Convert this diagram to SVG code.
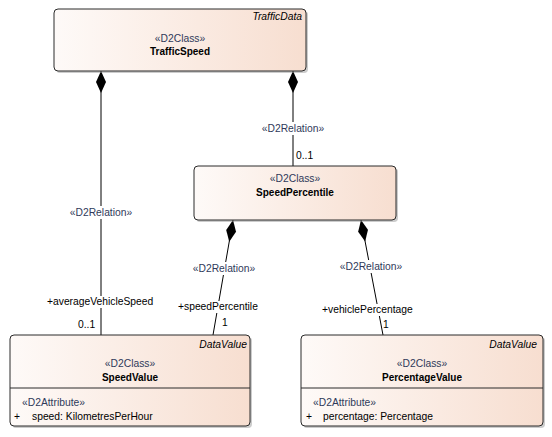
<svg xmlns="http://www.w3.org/2000/svg" width="552" height="437" viewBox="0 0 552 437">
<defs>
<linearGradient id="g" x1="0" y1="0" x2="1" y2="0">
<stop offset="0" stop-color="#fefaf8"/>
<stop offset="1" stop-color="#f7ded0"/>
</linearGradient>
<marker id="dia" markerUnits="userSpaceOnUse" markerWidth="24" markerHeight="12" refX="0" refY="6" orient="auto" viewBox="0 0 24 12">
<path d="M0,6 L11,1 L22,6 L11,11 Z" fill="#000"/>
</marker>
<style>
.box{fill:url(#g);stroke:#2a2a2a;stroke-width:1}
.sh{fill:#9a9a9a;opacity:0.5}
.t{font-family:"Liberation Sans",Arial,sans-serif;font-size:10.3px;fill:#000}
.st{font-family:"Liberation Sans",Arial,sans-serif;font-size:10.3px;fill:#2f3a5a}
.b{font-family:"Liberation Sans",Arial,sans-serif;font-size:10px;font-weight:bold;fill:#000}
.i{font-family:"Liberation Sans",Arial,sans-serif;font-size:10.3px;font-style:italic;fill:#000}
.ln{stroke:#000;stroke-width:1;fill:none}
.lb{fill:#fff}
</style>
</defs>
<rect width="552" height="437" fill="#fff"/>

<g id="connectors">
<path class="ln" d="M101,71 L101,335" marker-start="url(#dia)"/>
<path class="ln" d="M293,71 L293,166" marker-start="url(#dia)"/>
<path class="ln" d="M233,220 L213,335" marker-start="url(#dia)"/>
<path class="ln" d="M361,220 L383,335" marker-start="url(#dia)"/>
<rect class="lb" x="65" y="206" width="72" height="13"/>
<text class="st" x="101" y="216" text-anchor="middle">«D2Relation»</text>
<rect class="lb" x="257" y="122" width="72" height="13"/>
<text class="st" x="293" y="132" text-anchor="middle">«D2Relation»</text>
<rect class="lb" x="188" y="262" width="72" height="13"/>
<text class="st" x="224" y="272" text-anchor="middle">«D2Relation»</text>
<rect class="lb" x="335" y="260" width="72" height="13"/>
<text class="st" x="371" y="270" text-anchor="middle">«D2Relation»</text>
<rect class="lb" x="46" y="296" width="110" height="12"/>
<text class="t" x="47" y="305">+averageVehicleSpeed</text>
<text class="t" x="78" y="328">0..1</text>
<text class="t" x="296" y="159">0..1</text>
<rect class="lb" x="177" y="301" width="86" height="12"/>
<text class="t" x="178" y="310">+speedPercentile</text>
<text class="t" x="222" y="326">1</text>
<rect class="lb" x="321" y="304" width="98" height="12"/>
<text class="t" x="322" y="313">+vehiclePercentage</text>
<text class="t" x="383" y="328">1</text>
</g>

<g id="TrafficSpeed">
<rect class="sh" x="56" y="11" width="252" height="62" rx="4"/>
<rect class="box" x="54" y="9" width="252" height="62" rx="4"/>
<text class="i" x="302" y="20" text-anchor="end">TrafficData</text>
<text class="st" x="180" y="42" text-anchor="middle">«D2Class»</text>
<text class="b" x="180" y="55" text-anchor="middle">TrafficSpeed</text>
</g>

<g id="SpeedPercentile">
<rect class="sh" x="196" y="168" width="202" height="54" rx="4"/>
<rect class="box" x="194" y="166" width="202" height="54" rx="4"/>
<text class="st" x="295" y="182" text-anchor="middle">«D2Class»</text>
<text class="b" x="295" y="196" text-anchor="middle">SpeedPercentile</text>
</g>

<g id="SpeedValue">
<rect class="sh" x="12" y="337" width="240" height="91" rx="4"/>
<rect class="box" x="10" y="335" width="240" height="91" rx="4"/>
<line x1="10" y1="388" x2="250" y2="388" stroke="#2a2a2a" stroke-width="1"/>
<text class="i" x="247" y="348" text-anchor="end">DataValue</text>
<text class="st" x="130" y="367" text-anchor="middle">«D2Class»</text>
<text class="b" x="130" y="381" text-anchor="middle">SpeedValue</text>
<text class="st" x="22" y="406">«D2Attribute»</text>
<text class="t" x="14" y="420">+</text>
<text class="t" x="32" y="420">speed: KilometresPerHour</text>
</g>

<g id="PercentageValue">
<rect class="sh" x="303" y="337" width="242" height="91" rx="4"/>
<rect class="box" x="301" y="335" width="242" height="91" rx="4"/>
<line x1="301" y1="388" x2="543" y2="388" stroke="#2a2a2a" stroke-width="1"/>
<text class="i" x="537" y="348" text-anchor="end">DataValue</text>
<text class="st" x="422" y="367" text-anchor="middle">«D2Class»</text>
<text class="b" x="422" y="381" text-anchor="middle">PercentageValue</text>
<text class="st" x="313" y="406">«D2Attribute»</text>
<text class="t" x="306" y="420">+</text>
<text class="t" x="323" y="420">percentage: Percentage</text>
</g>
</svg>
